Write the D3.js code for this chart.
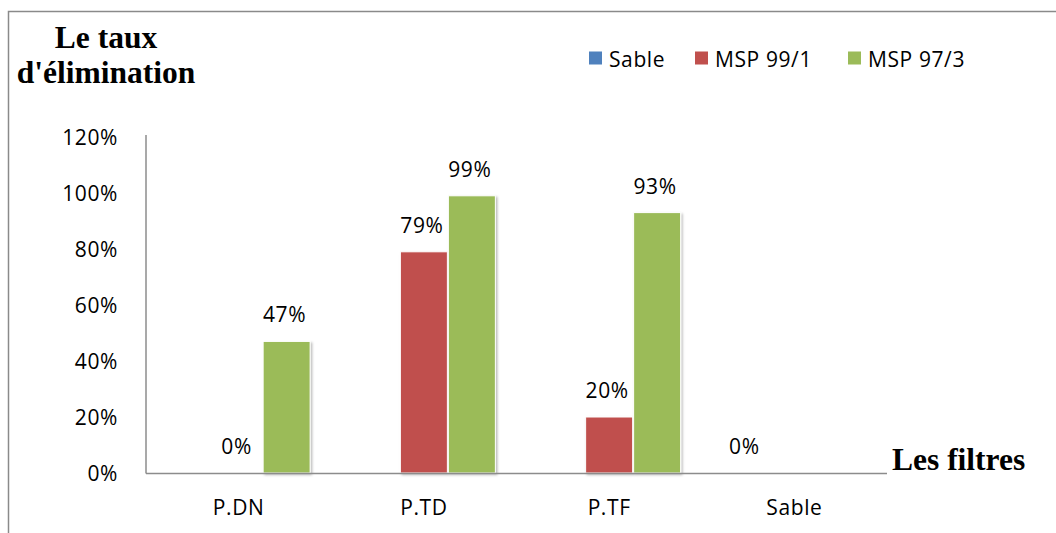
<!DOCTYPE html>
<html><head><meta charset="utf-8">
<script src="https://cdn.jsdelivr.net/npm/d3@7"></script>
<style>
html,body{margin:0;padding:0;background:#fff;}
svg{display:block;}
.lbl{font-family:"Open Sans",sans-serif;font-size:21px;fill:#000;letter-spacing:0.6px;}
.ttl{font-family:"Liberation Serif","Times New Roman",serif;font-weight:bold;font-size:31.5px;fill:#000;}
</style></head>
<body>
<svg id="c" width="1056" height="533"></svg>
<script>
const categories = ["P.DN", "P.TD", "P.TF", "Sable"];
const seriesNames = ["Sable", "MSP 99/1", "MSP 97/3"];
const sableValues = [null, null, null, 0];
const msp991Values = [0, 79, 20, null];
const msp973Values = [47, 99, 93, null];
const yTicks = [0, 20, 40, 60, 80, 100, 120];
const colors = ["#4F81BD", "#C0504D", "#9BBB59"];
const yTitle = ["Le taux", "d'élimination"];
const xTitle = "Les filtres";

const seriesValues = [sableValues, msp991Values, msp973Values];
const svg = d3.select("#c");

const defs = svg.append("defs");
const f = defs.append("filter").attr("id","sh").attr("x","-20%").attr("y","-20%").attr("width","140%").attr("height","140%");
f.append("feDropShadow").attr("dx",1.5).attr("dy",1.5).attr("stdDeviation",1.3).attr("flood-color","#000").attr("flood-opacity",0.28);

// frame
svg.append("path").attr("d","M8.5,533 V11.5 H1056").attr("fill","none").attr("stroke","#8a8a8a").attr("stroke-width",1.5);

const left = 146, right = 887, y0 = 473, yTop = 137;
const x0 = d3.scaleBand().domain(categories).range([left, right]).paddingInner(0.2227).paddingOuter(0.11135);
const x1 = d3.scaleBand().domain(seriesNames).range([0, x0.bandwidth()]);
const y = d3.scaleLinear().domain([0, 120]).range([y0, yTop]);

// bars
seriesNames.forEach((s, si) => {
  const data = categories.map((c, i) => ({c, v: seriesValues[si][i]})).filter(d => d.v !== null);
  const g = svg.append("g");
  g.selectAll("rect").data(data.filter(d => d.v > 0)).join("rect")
    .attr("x", d => x0(d.c) + x1(s) + 0.5)
    .attr("y", d => y(d.v))
    .attr("width", x1.bandwidth() - 1)
    .attr("height", d => y(0) - y(d.v))
    .attr("fill", colors[si])
    .attr("stroke", "#fff").attr("stroke-width", 1)
    .attr("filter", "url(#sh)");
  g.selectAll("text").data(data).join("text").attr("class","lbl")
    .attr("x", d => x0(d.c) + x1(s) + x1.bandwidth()/2 - 2)
    .attr("y", d => y(d.v) - 19)
    .attr("text-anchor","middle")
    .text(d => d.v + "%");
});

// axes
const axG = svg.append("g");
axG.append("line").attr("x1", left).attr("x2", left).attr("y1", yTop - 2).attr("y2", y0 + 0.5).attr("stroke","#8c8c8c").attr("stroke-width",1.5);
axG.append("line").attr("x1", left).attr("x2", right).attr("y1", y0 + 0.5).attr("y2", y0 + 0.5).attr("stroke","#8c8c8c").attr("stroke-width",1.5);

const yAxis = d3.axisLeft(y).tickValues(yTicks).tickSize(0).tickPadding(0).tickFormat(d => d + "%");
const ya = svg.append("g").attr("transform", `translate(${118},0)`).call(yAxis);
ya.select(".domain").remove();
ya.attr("font-family",null).attr("font-size",null);
ya.selectAll("text").attr("class","lbl").attr("dy","0.36em");

const xAxis = d3.axisBottom(x0).tickSize(0).tickPadding(0);
const xa = svg.append("g").attr("transform", `translate(0,${515})`).call(xAxis);
xa.select(".domain").remove();
xa.attr("font-family",null).attr("font-size",null);
xa.selectAll("text").attr("class","lbl").attr("dy",0);

// titles
svg.append("text").attr("class","ttl").attr("x",106).attr("y",48).attr("text-anchor","middle").text(yTitle[0]);
svg.append("text").attr("class","ttl").attr("x",106).attr("y",83).attr("text-anchor","middle").text(yTitle[1]);
svg.append("text").attr("class","ttl").attr("x",892).attr("y",470).text(xTitle);

// legend
const legX = [589, 695, 848];
const lg = svg.append("g");
seriesNames.forEach((s, i) => {
  lg.append("rect").attr("x", legX[i]).attr("y", 51.5).attr("width", 13).attr("height", 13).attr("fill", colors[i]);
  lg.append("text").attr("class","lbl").attr("x", legX[i] + 20).attr("y", 67).text(s);
});
</script>
</body></html>
